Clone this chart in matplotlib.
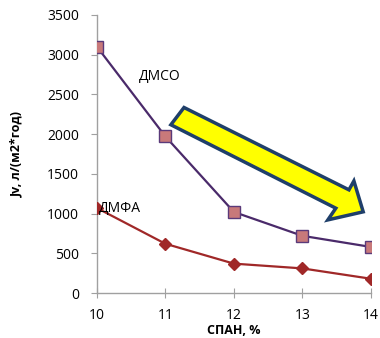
import matplotlib
matplotlib.use("Agg")
import matplotlib.pyplot as plt
from matplotlib.patches import Polygon

# data
span = [10, 11, 12, 13, 14]
jv_dmso = [3100, 1970, 1020, 720, 580]
jv_dmfa = [1070, 620, 370, 310, 180]
y_ticks = [0, 500, 1000, 1500, 2000, 2500, 3000, 3500]

plt.rcParams['font.family'] = ['Open Sans', 'DejaVu Sans']

fig = plt.figure(figsize=(3.8, 3.38), dpi=100)
ax = fig.add_axes([0.255, 0.133, 0.721, 0.823])

ax.plot(span, jv_dmso, color='#4a2a6a', lw=1.6, marker='s', ms=8,
        mfc='#c8797a', mec='#5a3a7a', mew=1.0, zorder=3)
ax.plot(span, jv_dmfa, color='#a02828', lw=1.6, marker='D', ms=6.5,
        mfc='#a02828', mec='#a02828', zorder=3)

ax.set_xlim(10, 14)
ax.set_ylim(0, 3500)
ax.set_xticks(span)
ax.set_yticks(y_ticks)

for s in ['top', 'right']:
    ax.spines[s].set_visible(False)
for s in ['left', 'bottom']:
    ax.spines[s].set_color('#a0a0a0')
    ax.spines[s].set_linewidth(1.0)
ax.tick_params(axis='x', direction='inout', length=7, color='#a0a0a0',
               labelsize=10, pad=7)
ax.tick_params(axis='y', direction='out', length=4, color='#a0a0a0',
               labelsize=10, pad=9)

ax.set_xlabel('СПАН, %', fontsize=9, fontweight='bold', labelpad=1)
ax.set_ylabel('Jv, л/(м2*год)', fontsize=9, fontweight='bold', labelpad=17)

ax.text(10.62, 2720, 'ДМСО', fontsize=10, va='center', ha='left')
ax.text(10.03, 1060, 'ДМФА', fontsize=10, va='center', ha='left')

# big yellow arrow (axes fraction)
arrow = [(0.318, 0.667), (0.920, 0.371), (0.938, 0.403), (0.972, 0.292),
         (0.843, 0.263), (0.872, 0.305), (0.270, 0.605)]
ax.add_patch(Polygon(arrow, closed=True, transform=ax.transAxes,
                     facecolor='#ffff00', edgecolor='#1f3f6a', lw=2.5,
                     clip_on=False, zorder=4))

fig.savefig('out.png', dpi=100)
